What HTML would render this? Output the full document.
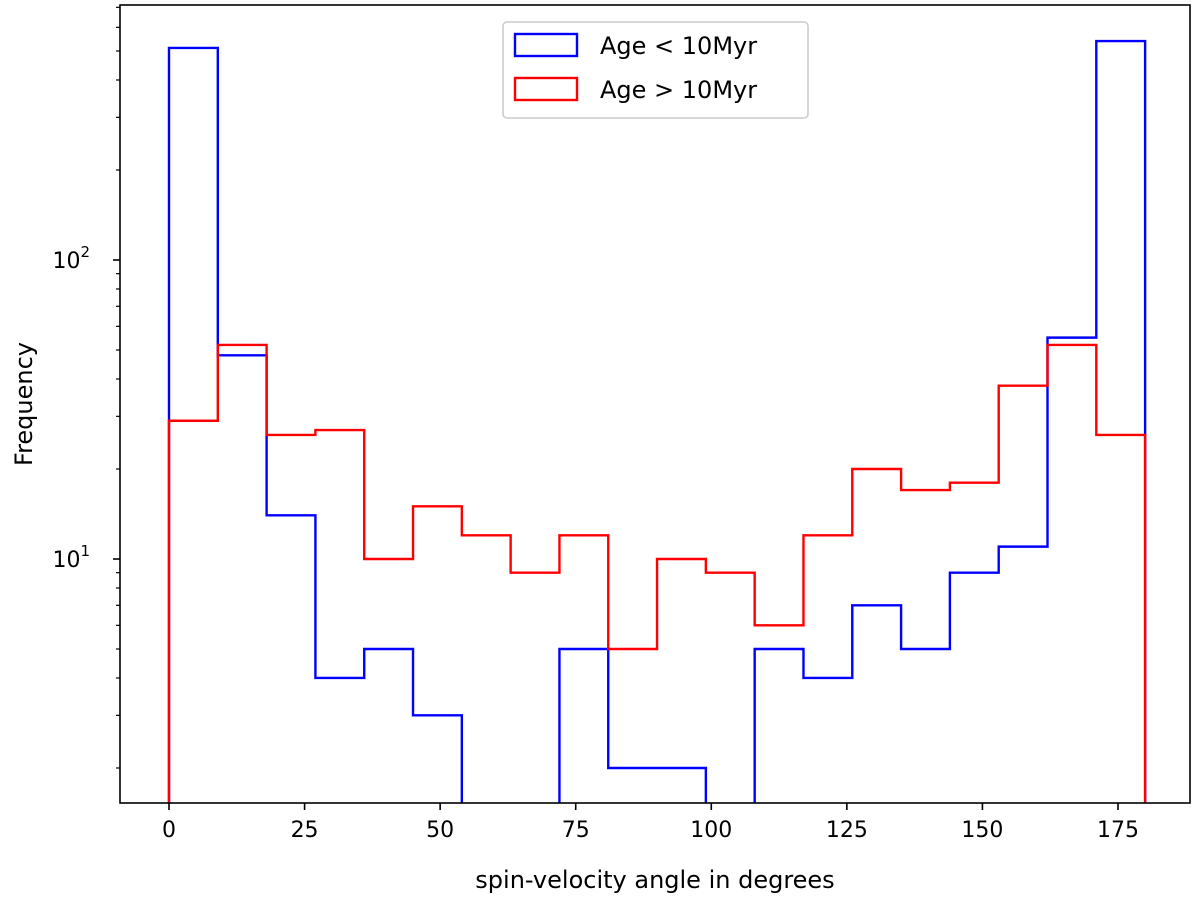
<!DOCTYPE html>
<html><head><meta charset="utf-8"><style>
body{margin:0;background:#fff;}
svg{display:block;font-family:"DejaVu Sans","Liberation Sans",sans-serif;}
</style></head><body>
<svg id="chart" width="1200" height="900" viewBox="0 0 1200 900">
<defs><clipPath id="clip"><rect x="120" y="5" width="1070" height="798"/></clipPath></defs>
<rect width="1200" height="900" fill="#fff"/>
<g id="marks" clip-path="url(#clip)"></g>
<g id="axes"></g>
<rect x="120" y="5" width="1070" height="798" fill="none" stroke="#000" stroke-width="1.6"/>
<text x="655" y="888" font-size="24" text-anchor="middle">spin-velocity angle in degrees</text>
<text transform="translate(32,404) rotate(-90)" font-size="24" text-anchor="middle">Frequency</text>
<g>
<rect x="503" y="22" width="305" height="96" rx="4" fill="#fff" stroke="#ccc" stroke-width="1.6"/>
<rect x="515" y="34" width="62" height="22" fill="none" stroke="#0000ff" stroke-width="2.4"/>
<text x="600" y="54" font-size="24">Age &lt; 10Myr</text>
<rect x="515" y="78" width="62" height="22" fill="none" stroke="#ff0000" stroke-width="2.4"/>
<text x="600" y="98" font-size="24">Age &gt; 10Myr</text>
</g>
</svg>
<script>
const binEdgesStart = 0, binWidth = 9, binCount = 20;
const youngCounts = [512,48,14,4,5,3,0,0,5,2,2,0,5,4,7,5,9,11,55,540];
const oldCounts = [29,52,26,27,10,15,12,9,12,5,10,9,6,12,20,17,18,38,52,26];
const xTicks = [0,25,50,75,100,125,150,175];
const yMajorTicks = [10,100];

const NS="http://www.w3.org/2000/svg";
const X0=169, PXDEG=949/175, YBOT=803, Y10=559, DEC=299;
const xs=v=>X0+v*PXDEG;
const ys=v=>v<=0?YBOT+50:Y10-(Math.log10(v)-1)*DEC;
function mk(tag,attrs,parent){const e=document.createElementNS(NS,tag);for(const k in attrs)e.setAttribute(k,attrs[k]);parent.appendChild(e);return e;}
const marks=document.getElementById('marks'), axes=document.getElementById('axes');
function step(counts,color,name){
  let d=`M${xs(binEdgesStart)},${ys(0)}`;
  counts.forEach((c,i)=>{const a=xs(binEdgesStart+i*binWidth),b=xs(binEdgesStart+(i+1)*binWidth);d+=` L${a},${ys(c)} L${b},${ys(c)}`;});
  d+=` L${xs(binEdgesStart+counts.length*binWidth)},${ys(0)}`;
  const p=mk('path',{d:d,fill:'none',stroke:color,'stroke-width':2.4},marks);
  
  
}
step(youngCounts,'#0000ff','series-age-under-10myr');
step(oldCounts,'#ff0000','series-age-over-10myr');
xTicks.forEach(t=>{
  const x=xs(t);
  mk('line',{x1:x,x2:x,y1:803,y2:810,stroke:'#000','stroke-width':1.6},axes);
  const tx=mk('text',{x:x,y:837,'font-size':22,'text-anchor':'middle'},axes);
  tx.textContent=t;
  
  
});
for(let dec=1;dec<=100;dec*=10){for(let m=1;m<10;m++){const v=dec*m;const y=ys(v);if(y<5||y>803)continue;
  const major=m===1;
  mk('line',{x1:120,x2:major?113:116,y1:y,y2:y,stroke:'#000','stroke-width':major?1.6:1.2},axes);}}
yMajorTicks.forEach(t=>{
  const y=ys(t);
  const tx=mk('text',{x:90,y:y+8,'font-size':22,'text-anchor':'end'},axes);
  
  
  tx.appendChild(document.createTextNode('10'));
  const sp=mk('tspan',{dy:-11,'font-size':15},tx);sp.textContent=String(Math.round(Math.log10(t)));
});
</script>
</body></html>
